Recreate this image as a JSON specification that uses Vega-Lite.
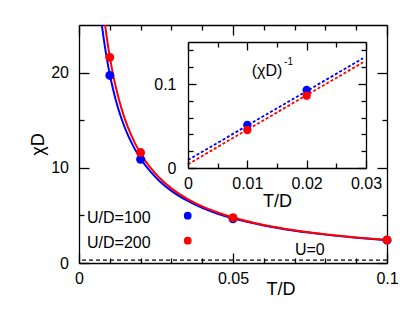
{
  "$schema": "https://vega.github.io/schema/vega-lite/v6.json",
  "width": 308,
  "height": 238,
  "autosize": {"type": "none"},
  "padding": {"left": 79, "top": 25, "right": 28, "bottom": 49},
  "background": "white",
  "config": {
    "view": {"stroke": null},
    "axis": {"grid": false, "labelFont": "Liberation Sans", "labelFontSize": 16, "labelColor": "#000", "titleFont": "Liberation Sans", "titleFontSize": 18, "titleFontWeight": "normal", "titleColor": "#000", "domainColor": "#000", "domainWidth": 1.3, "tickColor": "#000", "tickWidth": 1.3, "labelFlush": false, "labelOverlap": false, "labelBound": false},
    "text": {"font": "Liberation Sans", "color": "#000"}
  },
  "datasets": {
    "curves": [
      {"series": "100", "T": 0.0065, "chi": 27.58}, {"series": "100", "T": 0.007, "chi": 26.12}, {"series": "100", "T": 0.0075, "chi": 24.80}, {"series": "100", "T": 0.008, "chi": 23.61}, {"series": "100", "T": 0.009, "chi": 21.54}, {"series": "100", "T": 0.01, "chi": 19.80}, {"series": "100", "T": 0.011, "chi": 18.33}, {"series": "100", "T": 0.012, "chi": 17.05}, {"series": "100", "T": 0.014, "chi": 14.97}, {"series": "100", "T": 0.016, "chi": 13.35}, {"series": "100", "T": 0.018, "chi": 12.04}, {"series": "100", "T": 0.02, "chi": 10.96}, {"series": "100", "T": 0.023, "chi": 9.67}, {"series": "100", "T": 0.026, "chi": 8.65}, {"series": "100", "T": 0.03, "chi": 7.58}, {"series": "100", "T": 0.035, "chi": 6.57}, {"series": "100", "T": 0.04, "chi": 5.79}, {"series": "100", "T": 0.045, "chi": 5.18}, {"series": "100", "T": 0.05, "chi": 4.69}, {"series": "100", "T": 0.06, "chi": 3.94}, {"series": "100", "T": 0.07, "chi": 3.39}, {"series": "100", "T": 0.08, "chi": 2.98}, {"series": "100", "T": 0.09, "chi": 2.66}, {"series": "100", "T": 0.1, "chi": 2.40},
      {"series": "200", "T": 0.0075, "chi": 27.76}, {"series": "200", "T": 0.008, "chi": 26.27}, {"series": "200", "T": 0.0085, "chi": 24.94}, {"series": "200", "T": 0.009, "chi": 23.74}, {"series": "200", "T": 0.01, "chi": 21.65}, {"series": "200", "T": 0.011, "chi": 19.89}, {"series": "200", "T": 0.012, "chi": 18.40}, {"series": "200", "T": 0.014, "chi": 16.01}, {"series": "200", "T": 0.016, "chi": 14.16}, {"series": "200", "T": 0.018, "chi": 12.70}, {"series": "200", "T": 0.02, "chi": 11.51}, {"series": "200", "T": 0.023, "chi": 10.09}, {"series": "200", "T": 0.026, "chi": 8.98}, {"series": "200", "T": 0.03, "chi": 7.84}, {"series": "200", "T": 0.035, "chi": 6.76}, {"series": "200", "T": 0.04, "chi": 5.94}, {"series": "200", "T": 0.045, "chi": 5.30}, {"series": "200", "T": 0.05, "chi": 4.78}, {"series": "200", "T": 0.06, "chi": 4.00}, {"series": "200", "T": 0.07, "chi": 3.44}, {"series": "200", "T": 0.08, "chi": 3.02}, {"series": "200", "T": 0.09, "chi": 2.69}, {"series": "200", "T": 0.1, "chi": 2.42}
    ],
    "points": [
      {"series": "100", "T": 0.01, "chi": 19.7}, {"series": "100", "T": 0.02, "chi": 10.9}, {"series": "100", "T": 0.05, "chi": 4.65}, {"series": "100", "T": 0.1, "chi": 2.4},
      {"series": "200", "T": 0.01, "chi": 21.6}, {"series": "200", "T": 0.02, "chi": 11.6}, {"series": "200", "T": 0.05, "chi": 4.76}, {"series": "200", "T": 0.1, "chi": 2.42}
    ],
    "labels": [
      {"T": 0.0026, "chi": 4.2, "label": "U/D=100"},
      {"T": 0.0026, "chi": 1.6, "label": "U/D=200"},
      {"T": 0.0701, "chi": 0.84, "label": "U=0"}
    ],
    "legendDots": [
      {"series": "100", "T": 0.0353, "chi": 4.97},
      {"series": "200", "T": 0.0353, "chi": 2.34}
    ],
    "insetLines": [
      {"series": "100", "T": 0, "v": 0.0095}, {"series": "100", "T": 0.0295, "v": 0.1306},
      {"series": "200", "T": 0, "v": 0.0045}, {"series": "200", "T": 0.0295, "v": 0.1258}
    ],
    "insetPoints": [
      {"series": "100", "T": 0.01, "v": 0.0512}, {"series": "100", "T": 0.02, "v": 0.0929},
      {"series": "200", "T": 0.01, "v": 0.0452}, {"series": "200", "T": 0.02, "v": 0.0861}
    ],
    "insetLabel": [{"T": 0.0159, "v": 0.1099, "label": "(χD)"}],
    "insetSup": [{"T": 0.0162, "v": 0.1226, "label": "-1"}],
    "insetBox": [{"x1": 0, "x2": 0.03, "y1": 0, "y2": 0.15}]
  },
  "layer": [
    {
      "layer": [
        {
          "data": {"name": "curves"},
          "mark": {"type": "line", "strokeWidth": 2, "clip": true, "interpolate": "monotone"},
          "encoding": {
            "x": {"field": "T", "type": "quantitative", "scale": {"domain": [0, 0.1], "nice": false, "zero": false},
                  "axis": {"orient": "bottom", "values": [0, 0.05, 0.1], "format": "~r", "tickSize": -10, "labelPadding": 17.5, "title": "T/D", "titleX": 201.5, "titleY": 31, "titleBaseline": "alphabetic", "titleAlign": "center", "domain": true}},
            "y": {"field": "chi", "type": "quantitative", "scale": {"domain": [0, 25], "nice": false, "zero": false},
                  "axis": {"orient": "left", "values": [0, 10, 20], "format": "~r", "tickSize": -10, "labelPadding": 20.5, "title": "χD", "titleX": -36, "titleY": 119, "titleAngle": 270, "titleBaseline": "alphabetic", "titleAlign": "center", "domain": true}},
            "color": {"field": "series", "type": "nominal", "scale": {"domain": ["100", "200"], "range": ["#0000ff", "#ff0000"]}, "legend": null}
          }
        },
        {
          "data": {"name": "points"},
          "mark": {"type": "point", "filled": true, "size": 80, "opacity": 1},
          "encoding": {
            "x": {"field": "T", "type": "quantitative", "axis": null},
            "y": {"field": "chi", "type": "quantitative", "axis": null},
            "color": {"field": "series", "type": "nominal", "legend": null}
          }
        },
        {
          "data": {"values": [{"chi": 0.3}]},
          "mark": {"type": "rule", "color": "#000", "strokeWidth": 1.4, "strokeDash": [4, 3]},
          "encoding": {"y": {"field": "chi", "type": "quantitative", "axis": null}}
        },
        {
          "data": {"name": "labels"},
          "mark": {"type": "text", "align": "left", "baseline": "alphabetic", "fontSize": 16, "font": "Liberation Sans", "color": "#000"},
          "encoding": {
            "x": {"field": "T", "type": "quantitative", "axis": null},
            "y": {"field": "chi", "type": "quantitative", "axis": null},
            "text": {"field": "label"}
          }
        },
        {
          "data": {"name": "legendDots"},
          "mark": {"type": "point", "filled": true, "size": 60, "opacity": 1},
          "encoding": {
            "x": {"field": "T", "type": "quantitative", "axis": null},
            "y": {"field": "chi", "type": "quantitative", "axis": null},
            "color": {"field": "series", "type": "nominal", "legend": null}
          }
        },
        {
          "data": {"values": [{}]},
          "mark": {"type": "point", "opacity": 0},
          "encoding": {
            "x": {"datum": 0, "type": "quantitative", "axis": {"orient": "bottom", "values": [0.01, 0.02, 0.03, 0.04, 0.06, 0.07, 0.08, 0.09], "tickSize": -5, "labels": false, "domain": false, "title": null}},
            "y": {"datum": 0, "type": "quantitative", "axis": {"orient": "left", "values": [5, 15], "tickSize": -5, "labels": false, "domain": false, "title": null}}
          }
        },
        {
          "data": {"values": [{}]},
          "mark": {"type": "point", "opacity": 0},
          "encoding": {
            "x": {"datum": 0, "type": "quantitative", "axis": {"orient": "top", "values": [0, 0.05, 0.1], "tickSize": -10, "labels": false, "domain": true, "title": null}},
            "y": {"datum": 0, "type": "quantitative", "axis": {"orient": "right", "values": [0, 10, 20], "tickSize": -10, "labels": false, "domain": true, "title": null}}
          }
        },
        {
          "data": {"values": [{}]},
          "mark": {"type": "point", "opacity": 0},
          "encoding": {
            "x": {"datum": 0, "type": "quantitative", "axis": {"orient": "top", "values": [0.01, 0.02, 0.03, 0.04, 0.06, 0.07, 0.08, 0.09], "tickSize": -5, "labels": false, "domain": false, "title": null}},
            "y": {"datum": 0, "type": "quantitative", "axis": {"orient": "right", "values": [5, 15], "tickSize": -5, "labels": false, "domain": false, "title": null}}
          }
        }
      ],
      "resolve": {"axis": {"x": "independent", "y": "independent"}}
    },
    {
      "layer": [
        {
          "data": {"name": "insetBox"},
          "mark": {"type": "rect", "fill": "white", "stroke": null},
          "encoding": {
            "x": {"field": "x1", "type": "quantitative", "scale": {"domain": [0, 0.03], "range": [109, 287], "nice": false, "zero": false},
                  "axis": {"orient": "bottom", "offset": -95, "zindex": 1, "values": [0, 0.01, 0.02, 0.03], "format": "~r", "tickSize": -8, "labelPadding": 15.6, "title": "T/D", "titleX": 198, "titleY": 38.7, "titleBaseline": "alphabetic", "titleAlign": "center", "domain": true}},
            "x2": {"field": "x2"},
            "y": {"field": "y1", "type": "quantitative", "scale": {"domain": [0, 0.15], "range": [143, 17], "nice": false, "zero": false},
                  "axis": {"orient": "left", "offset": -109, "zindex": 1, "values": [0, 0.1], "format": "~r", "tickSize": -8, "labelPadding": 20, "title": null, "domain": true}},
            "y2": {"field": "y2"}
          }
        },
        {
          "data": {"name": "insetLines"},
          "mark": {"type": "line", "strokeWidth": 1.8, "strokeDash": [3, 2]},
          "encoding": {
            "x": {"field": "T", "type": "quantitative", "axis": null},
            "y": {"field": "v", "type": "quantitative", "axis": null},
            "color": {"field": "series", "type": "nominal", "legend": null}
          }
        },
        {
          "data": {"name": "insetPoints"},
          "mark": {"type": "point", "filled": true, "size": 70, "opacity": 1},
          "encoding": {
            "x": {"field": "T", "type": "quantitative", "axis": null},
            "y": {"field": "v", "type": "quantitative", "axis": null},
            "color": {"field": "series", "type": "nominal", "legend": null}
          }
        },
        {
          "data": {"name": "insetLabel"},
          "mark": {"type": "text", "align": "right", "baseline": "alphabetic", "fontSize": 16, "font": "Liberation Sans", "color": "#000"},
          "encoding": {
            "x": {"field": "T", "type": "quantitative", "axis": null},
            "y": {"field": "v", "type": "quantitative", "axis": null},
            "text": {"field": "label"}
          }
        },
        {
          "data": {"name": "insetSup"},
          "mark": {"type": "text", "align": "left", "baseline": "alphabetic", "fontSize": 10, "font": "Liberation Sans", "color": "#000"},
          "encoding": {
            "x": {"field": "T", "type": "quantitative", "axis": null},
            "y": {"field": "v", "type": "quantitative", "axis": null},
            "text": {"field": "label"}
          }
        },
        {
          "data": {"values": [{}]},
          "mark": {"type": "point", "opacity": 0},
          "encoding": {
            "x": {"datum": 0, "type": "quantitative", "axis": {"orient": "bottom", "offset": -95, "zindex": 1, "values": [0.005, 0.015, 0.025], "tickSize": -5, "labels": false, "domain": false, "title": null}},
            "y": {"datum": 0, "type": "quantitative", "axis": {"orient": "left", "offset": -109, "zindex": 1, "values": [0.02, 0.04, 0.06, 0.08, 0.12, 0.14], "tickSize": -5, "labels": false, "domain": false, "title": null}}
          }
        },
        {
          "data": {"values": [{}]},
          "mark": {"type": "point", "opacity": 0},
          "encoding": {
            "x": {"datum": 0, "type": "quantitative", "axis": {"orient": "top", "offset": -17, "zindex": 1, "values": [0, 0.01, 0.02, 0.03], "tickSize": -8, "labels": false, "domain": true, "title": null}},
            "y": {"datum": 0, "type": "quantitative", "axis": {"orient": "right", "offset": -21, "zindex": 1, "values": [0, 0.1], "tickSize": -8, "labels": false, "domain": true, "title": null}}
          }
        },
        {
          "data": {"values": [{}]},
          "mark": {"type": "point", "opacity": 0},
          "encoding": {
            "x": {"datum": 0, "type": "quantitative", "axis": {"orient": "top", "offset": -17, "zindex": 1, "values": [0.005, 0.015, 0.025], "tickSize": -5, "labels": false, "domain": false, "title": null}},
            "y": {"datum": 0, "type": "quantitative", "axis": {"orient": "right", "offset": -21, "zindex": 1, "values": [0.02, 0.04, 0.06, 0.08, 0.12, 0.14], "tickSize": -5, "labels": false, "domain": false, "title": null}}
          }
        }
      ],
      "resolve": {"axis": {"x": "independent", "y": "independent"}}
    }
  ],
  "resolve": {"scale": {"x": "independent", "y": "independent"}, "axis": {"x": "independent", "y": "independent"}}
}
